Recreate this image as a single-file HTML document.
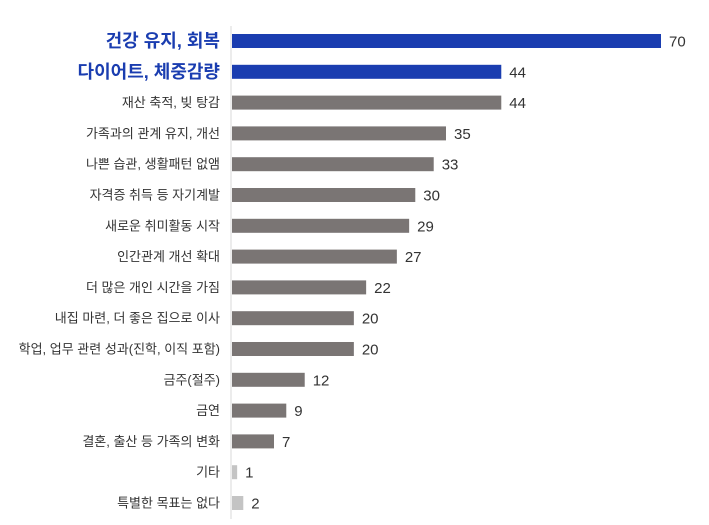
<!DOCTYPE html>
<html><head><meta charset="utf-8"><style>
body{margin:0;background:#fff;}
svg{display:block;font-family:"Liberation Sans","Noto Sans CJK KR",sans-serif;}
</style></head><body>
<svg id="chart" width="709" height="525" viewBox="0 0 709 525"></svg>
<script>
const categories=["건강 유지, 회복","다이어트, 체중감량","재산 축적, 빚 탕감","가족과의 관계 유지, 개선","나쁜 습관, 생활패턴 없앰","자격증 취득 등 자기계발","새로운 취미활동 시작","인간관계 개선 확대","더 많은 개인 시간을 가짐","내집 마련, 더 좋은 집으로 이사","학업, 업무 관련 성과(진학, 이직 포함)","금주(절주)","금연","결혼, 출산 등 가족의 변화","기타","특별한 목표는 없다"];
const values=[70,44,44,35,33,30,29,27,22,20,20,12,9,7,1,2];
const highlight=[1,1,0,0,0,0,0,0,0,0,0,0,0,0,0,0];
const light=[0,0,0,0,0,0,0,0,0,0,0,0,0,0,1,1];
const svg=document.getElementById('chart');
const NS='http://www.w3.org/2000/svg';
const x0=231, xScale=v=>x0+v*(661-231)/70;
const yScale=i=>41+i*(503-41)/15;
const axis=document.createElementNS(NS,'line');
axis.setAttribute('x1',x0);axis.setAttribute('x2',x0);axis.setAttribute('y1',26);axis.setAttribute('y2',519);
axis.setAttribute('stroke','#d8d8d8');axis.setAttribute('stroke-width','1');


svg.appendChild(axis);
categories.forEach((c,i)=>{
  const y=yScale(i);
  const col=highlight[i]?'#1a3db0':(light[i]?'#c4c4c4':'#7a7574');
  const r=document.createElementNS(NS,'rect');
  r.setAttribute('x',x0+1);r.setAttribute('y',y-7);
  r.setAttribute('width',Math.max(0,xScale(values[i])-x0-1));r.setAttribute('height',14);
  r.setAttribute('fill',col);
  
  
  svg.appendChild(r);
  const t=document.createElementNS(NS,'text');
  t.setAttribute('x',220);t.setAttribute('y',y);
  t.setAttribute('text-anchor','end');t.setAttribute('dominant-baseline','central');
  if(highlight[i]){t.setAttribute('font-size','18');t.setAttribute('font-weight','bold');t.setAttribute('fill','#1a3db0');}
  else{t.setAttribute('font-size','13');t.setAttribute('fill','#333');}
  t.textContent=c;
  
  
  svg.appendChild(t);
  const v=document.createElementNS(NS,'text');
  v.setAttribute('x',xScale(values[i])+8);v.setAttribute('y',y+1);
  v.setAttribute('dominant-baseline','central');v.setAttribute('font-size','15');v.setAttribute('fill','#333');
  v.textContent=values[i];
  
  
  svg.appendChild(v);
});
</script>
</body></html>
